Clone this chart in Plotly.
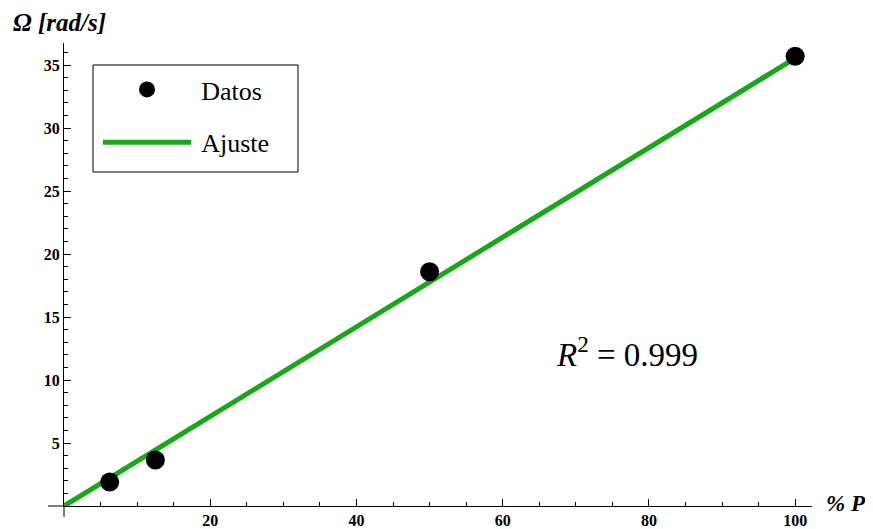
import plotly.graph_objects as go

# Data
p_percent = [6.25, 12.5, 50, 100]
omega = [1.9, 3.65, 18.6, 35.7]

fit_x = [0, 100]
fit_y = [0, 35.55]

x_ticks = [20, 40, 60, 80, 100]
y_ticks = [5, 10, 15, 20, 25, 30, 35]

# page has an 8px body margin, so the figure is offset by 8px
OFF = 8
W, H = 873 - OFF, 529 - OFF
ml, mt = 64 - OFF, 43 - OFF
mr = W - (812 - OFF)
mb = H - (506 - OFF)
pw = W - ml - mr
ph = H - mt - mb


def px(xp):
    return (xp - OFF - ml) / pw


def py(yp):
    return (H - mb - (yp - OFF)) / ph


serif = "'Liberation Serif', 'Times New Roman', serif"

fig = go.Figure()
fig.add_trace(go.Scatter(
    x=fit_x, y=fit_y, mode="lines", name="\u2009Ajuste",
    line=dict(color="#16a816", width=5),
    legendgroup="b", legendrank=2,
))
fig.add_trace(go.Scatter(
    x=p_percent, y=omega, mode="markers", name="\u2009Datos",
    marker=dict(color="black", size=19),
    legendgroup="a", legendrank=1, cliponaxis=False,
))

axis_common = dict(
    showgrid=False, zeroline=False, showline=True, linecolor="black",
    linewidth=1, ticks="inside", ticklen=7, tickcolor="black", tickwidth=1,
    tickfont=dict(family=serif, size=16, color="black", weight="bold"),
    automargin=False, ticklabelstandoff=0,
)

fig.update_xaxes(
    range=[0, 102.3], tickvals=x_ticks, ticktext=[str(v) for v in x_ticks],
    minor=dict(ticks="inside", ticklen=4, dtick=5, tick0=0, tickcolor="black", showgrid=False),
    **axis_common,
)
fig.update_yaxes(
    range=[0, 36.75], tickvals=y_ticks, ticktext=[str(v) for v in y_ticks],
    minor=dict(ticks="inside", ticklen=4, dtick=1, tick0=0, tickcolor="black", showgrid=False),
    **axis_common,
)

fig.update_layout(
    width=W, height=H,
    margin=dict(l=ml, r=mr, t=mt, b=mb, autoexpand=False),
    plot_bgcolor="white", paper_bgcolor="white",
    showlegend=True,
    legend=dict(
        x=px(98), y=py(66), xanchor="left", yanchor="top",
        borderwidth=0, bgcolor="rgba(0,0,0,0)",
        font=dict(family=serif, size=26, color="black"),
        itemwidth=88, traceorder="grouped", tracegroupgap=16,
    ),
    shapes=[
        dict(type="line", xref="paper", yref="paper",
             x0=-16 / pw, x1=0, y0=0, y1=0, line=dict(color="black", width=1)),
        dict(type="line", xref="paper", yref="paper",
             x0=0, x1=0, y0=-11 / ph, y1=0, line=dict(color="black", width=1)),
        dict(type="rect", xref="paper", yref="paper", layer="above",
             x0=px(93), x1=px(298), y0=py(172), y1=py(65),
             line=dict(color="black", width=1), fillcolor="white"),
    ],
    annotations=[
        dict(text="<b><i>Ω [rad/s]</i></b>", xref="paper", yref="paper",
             x=px(11), y=py(22), xanchor="left", yanchor="middle",
             showarrow=False, font=dict(family=serif, size=25, color="black")),
        dict(text="<b><i>% P</i></b>", xref="paper", yref="paper",
             x=px(824), y=py(503), xanchor="left", yanchor="middle",
             showarrow=False, font=dict(family=serif, size=23, color="black")),
        dict(text="<i>R</i><sup>2</sup> = 0.999", xref="paper", yref="paper",
             x=px(554), y=py(352), xanchor="left", yanchor="middle",
             showarrow=False, font=dict(family=serif, size=33, color="black")),
    ],
)

fig.write_html("out.html")
